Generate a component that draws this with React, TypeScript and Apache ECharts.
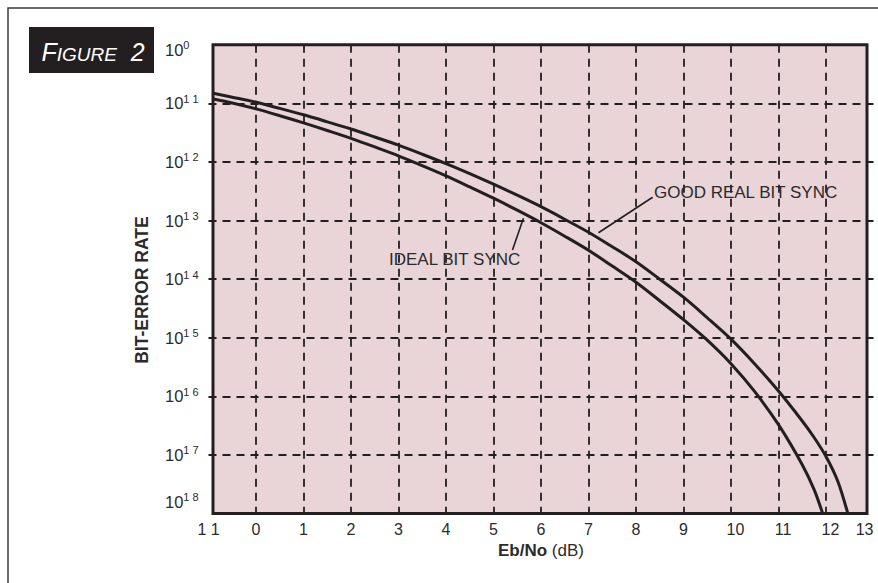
import React, { useEffect, useRef } from "react";
import * as echarts from "echarts";

// x axis (Eb/No, dB) tick labels, for -1 ... 13
const xTickValues = [-1, 0, 1, 2, 3, 4, 5, 6, 7, 8, 9, 10, 11, 12, 13];
const xTickLabels = ["1 1", "0", "1", "2", "3", "4", "5", "6", "7", "8", "9", "10", "11", "12", "13"];

// y axis superscripts, for 10^0 ... 10^-8 (as printed in the figure)
const yTickSups = ["0", "1 1", "1 2", "1 3", "1 4", "1 5", "1 6", "1 7", "1 8"];

// IDEAL BIT SYNC curve
const idealEbNo = [-0.9, -0.5, 0, 0.5, 1, 1.5, 2, 2.5, 3, 3.5, 4, 4.5, 5, 5.5, 6, 6.5, 7, 7.5, 8, 8.5, 9, 9.5, 10, 10.5, 11, 11.5, 11.75, 11.93];
const idealBer = [0.118, 0.101, 0.0802, 0.0614, 0.0463, 0.0343, 0.0252, 0.018, 0.0127, 0.00861, 0.00577, 0.00374, 0.0024, 0.0015, 9.17e-4, 5.4e-4, 3.11e-4, 1.67e-4, 8.85e-5, 4.28e-5, 2.03e-5, 9.06e-6, 3.6e-6, 1.2e-6, 3.28e-7, 6.8e-8, 2.55e-8, 1.0e-8];

// GOOD REAL BIT SYNC curve
const realEbNo = [-0.9, -0.5, 0, 0.5, 1, 1.5, 2, 2.5, 3, 3.5, 4, 4.5, 5, 5.5, 6, 6.5, 7, 7.5, 8, 8.5, 9, 9.5, 10, 10.5, 11, 11.5, 11.75, 12, 12.25, 12.46];
const realBer = [0.148, 0.127, 0.104, 0.0818, 0.0636, 0.0483, 0.0364, 0.0266, 0.0193, 0.0135, 0.00932, 0.00629, 0.00416, 0.0027, 0.00172, 0.00105, 6.31e-4, 3.57e-4, 1.98e-4, 9.96e-5, 4.91e-5, 2.19e-5, 9.43e-6, 3.56e-6, 1.23e-6, 3.79e-7, 1.98e-7, 9.39e-8, 3.52e-8, 1.0e-8];

const INK = "#231f20";
const TEXT = "#2b2b2b";
const FONT = "'Liberation Sans', Arial, Helvetica, sans-serif";

export default function App() {
  const ref = useRef<HTMLDivElement>(null);

  useEffect(() => {
    document.body.style.margin = "0";
    if (!ref.current) return;
    const chart = echarts.init(ref.current, null, { renderer: "svg" });

    const option: any = {
      animation: false,
      backgroundColor: "#ffffff",
      textStyle: { fontFamily: FONT },
      grid: { left: 208.5, right: 4.5, top: 44.7, bottom: 69.5, containLabel: false },
      xAxis: {
        type: "value",
        min: -1,
        max: 13,
        interval: 1,
        name: "{b|Eb/No} (dB)",
        nameLocation: "middle",
        nameGap: 28,
        nameTextStyle: {
          fontSize: 17,
          color: TEXT,
          fontFamily: FONT,
          rich: { b: { fontSize: 17, fontWeight: "bold", color: TEXT, fontFamily: FONT } },
        },
        axisLine: { show: false },
        axisTick: { show: false },
        axisLabel: {
          color: TEXT,
          fontSize: 16,
          fontFamily: FONT,
          margin: 8,
          alignMaxLabel: "right",
          formatter: (v: number) => {
            const i = xTickValues.indexOf(Math.round(v));
            const s = i >= 0 ? xTickLabels[i] : "";
            return s.length === 2 && v > 0 ? "{w|" + s + "}" : s;
          },
          rich: { w: { fontSize: 16, color: TEXT, fontFamily: FONT, padding: [0, 0, 0, 9] } },
        },
        splitLine: {
          show: true,
          showMinLine: false,
          showMaxLine: false,
          lineStyle: { color: INK, width: 1.8, type: [8, 6] },
        },
      },
      yAxis: {
        type: "log",
        logBase: 10,
        min: 1e-8,
        max: 1,
        splitNumber: 8,
        name: "BIT-ERROR RATE",
        nameLocation: "middle",
        nameGap: 58,
        nameRotate: 90,
        nameTextStyle: { fontSize: 17.5, fontWeight: "bold", color: TEXT, fontFamily: FONT, padding: [0, 22, 0, 0] },
        axisLine: { show: false },
        axisTick: { show: false },
        minorTick: { show: false },
        minorSplitLine: { show: false },
        axisLabel: {
          color: TEXT,
          margin: 43.5,
          align: "left",
          formatter: (v: number) => {
            const e = -Math.round(Math.log10(v));
            const sup = yTickSups[e] ?? "";
            const core = "{a|10}{s|" + sup + "}";
            if (e === 8) return core + "\n{g|\u00a0}";
            if (e === 0) return "{h|\u00a0}\n" + core;
            return core;
          },
          rich: {
            a: { fontSize: 16.5, lineHeight: 20, color: TEXT, fontFamily: FONT },
            s: { fontSize: 11, lineHeight: 11, verticalAlign: "top", color: TEXT, fontFamily: FONT },
            g: { fontSize: 10, lineHeight: 24 },
            h: { fontSize: 10, lineHeight: 10 },
          },
        },
        splitLine: {
          show: true,
          showMinLine: false,
          showMaxLine: false,
          lineStyle: { color: INK, width: 1.8, type: [8, 6] },
        },
      },
      series: [
        {
          name: "IDEAL BIT SYNC",
          type: "line",
          smooth: 0.3,
          showSymbol: false,
          symbol: "none",
          z: 5,
          lineStyle: { color: INK, width: 3 },
          data: idealEbNo.map((x, i) => [x, idealBer[i]]),
          markLine: {
            silent: true,
            symbol: "none",
            label: { show: false },
            lineStyle: { color: INK, width: 1.6, type: "solid" },
            data: [[{ coord: [5.4, 3.14e-4] }, { coord: [5.63, 1.09e-3] }]],
          },
        },
        {
          name: "GOOD REAL BIT SYNC",
          type: "line",
          smooth: 0.3,
          showSymbol: false,
          symbol: "none",
          z: 5,
          lineStyle: { color: INK, width: 3 },
          data: realEbNo.map((x, i) => [x, realBer[i]]),
          markLine: {
            silent: true,
            symbol: "none",
            label: { show: false },
            lineStyle: { color: INK, width: 1.6, type: "solid" },
            data: [[{ coord: [8.35, 2.49e-3] }, { coord: [7.21, 6.19e-4] }]],
          },
        },
      ],
      graphic: [
        {
          type: "rect",
          z: -10,
          silent: true,
          shape: { x: 213, y: 44.7, width: 654, height: 468.8 },
          style: { fill: "#e9d4d7", stroke: "none" },
        },
        {
          type: "rect",
          z: 50,
          silent: true,
          shape: { x: 213, y: 44.7, width: 654, height: 468.8 },
          style: { fill: "none", stroke: INK, lineWidth: 3 },
        },
        {
          type: "rect",
          z: 50,
          silent: true,
          shape: { x: 8, y: 8, width: 900, height: 620 },
          style: { fill: "none", stroke: "#3a3a3a", lineWidth: 1.5 },
        },
        {
          type: "rect",
          z: 50,
          silent: true,
          shape: { x: 29, y: 27, width: 125, height: 46 },
          style: { fill: INK },
        },
        {
          type: "text",
          z: 51,
          silent: true,
          x: 93,
          y: 51,
          style: {
            text: "{f|F}{s|IGURE}{f|\u00a0 2}",
            align: "center",
            verticalAlign: "middle",
            fill: "#ffffff",
            rich: {
              f: { fontSize: 25, fontStyle: "italic", fill: "#ffffff", fontFamily: FONT, lineHeight: 26, verticalAlign: "bottom" },
              s: { fontSize: 19, fontStyle: "italic", fill: "#ffffff", fontFamily: FONT, lineHeight: 21, verticalAlign: "bottom" },
            },
          },
        },
        {
          type: "text",
          z: 51,
          silent: true,
          x: 654,
          y: 192,
          style: { text: "GOOD REAL BIT SYNC", fontSize: 17, fontFamily: FONT, fill: TEXT, verticalAlign: "middle", align: "left" },
        },
        {
          type: "text",
          z: 51,
          silent: true,
          x: 389,
          y: 259,
          style: { text: "IDEAL BIT SYNC", fontSize: 17, fontFamily: FONT, fill: TEXT, verticalAlign: "middle", align: "left" },
        },
      ],
    };

    chart.setOption(option);
    return () => chart.dispose();
  }, []);

  return <div ref={ref} style={{ position: "absolute", left: 0, top: 0, width: 878, height: 583 }} />;
}
